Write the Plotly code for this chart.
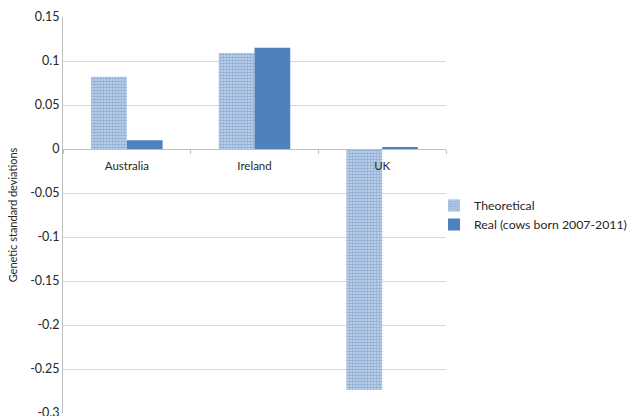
import plotly.graph_objects as go

categories = ["Australia", "Ireland", "UK"]
theoretical = [0.082, 0.109, -0.274]
real = [0.010, 0.115, 0.002]
series_names = ["Theoretical", "Real (cows born 2007-2011)"]
y_ticks = [0.15, 0.1, 0.05, 0, -0.05, -0.1, -0.15, -0.2, -0.25, -0.3]
y_tick_text = ["0.15", "0.1", "0.05", "0", "-0.05", "-0.1", "-0.15", "-0.2", "-0.25", "-0.3"]

blue = "#4F81BD"
font_family = "Lato, Open Sans, sans-serif"

fig = go.Figure()
fig.add_trace(go.Bar(
    x=categories, y=theoretical, name=series_names[0],
    marker=dict(color="white", line=dict(width=0),
                pattern=dict(shape=".", fgcolor=blue, bgcolor="#C9D8EC", size=3, solidity=0.55)),
))
fig.add_trace(go.Bar(
    x=categories, y=real, name=series_names[1],
    marker=dict(color=blue, line=dict(width=0)),
))

fig.update_layout(
    width=634, height=416,
    margin=dict(l=63, r=188, t=17, b=3, autoexpand=False),
    paper_bgcolor="white", plot_bgcolor="white",
    barmode="group", bargap=0.44, bargroupgap=0,
    font=dict(family=font_family, size=11, color="#262626"),
    showlegend=True,
    legend=dict(x=(446 - 63 - 12) / 383, xanchor="left", y=0.5, yanchor="middle",
                font=dict(size=12.3, color="#262626"), itemwidth=30,
                tracegroupgap=2, bgcolor="rgba(0,0,0,0)"),
    xaxis=dict(
        anchor="free", position=2/3,
        showgrid=False, showline=True, linecolor="#BFBFBF", linewidth=1,
        ticks="outside", tickson="boundaries", ticklen=4, tickcolor="#BFBFBF",
        tickfont=dict(size=11.5, color="#262626"), ticklabelstandoff=6,
    ),
    yaxis=dict(
        range=[-0.3, 0.15], tickvals=y_ticks, ticktext=y_tick_text,
        showgrid=True, gridcolor="#D9D9D9", gridwidth=1,
        zeroline=False, showline=True, linecolor="#BFBFBF", linewidth=1,
        tickfont=dict(size=12.5, color="#262626"), ticklabeloverflow="allow",
        title=dict(text="Genetic standard deviations", font=dict(size=11, color="#262626"), standoff=10),
    ),
)

fig.write_html("out.html")
